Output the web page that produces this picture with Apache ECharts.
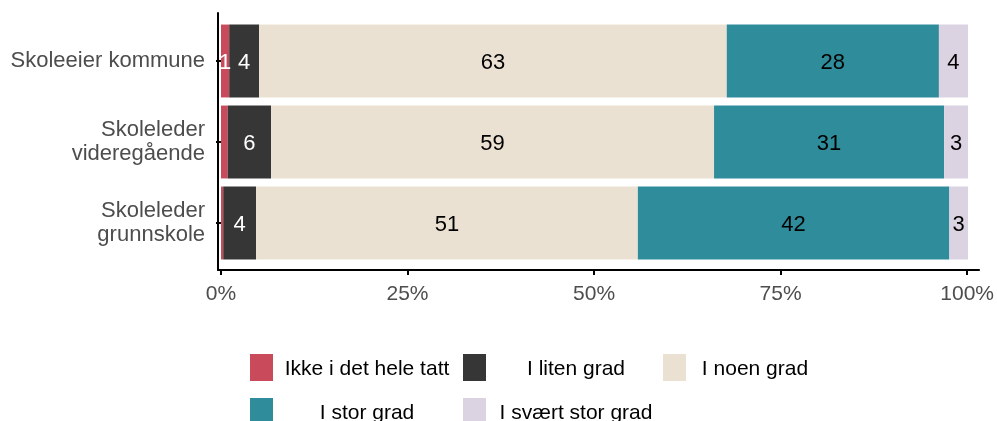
<!DOCTYPE html>
<html>
<head>
<meta charset="utf-8">
<script src="https://cdn.jsdelivr.net/npm/echarts@6/dist/echarts.min.js"></script>
<style>
  html, body { margin: 0; padding: 0; background: #ffffff; }
  #chart { width: 997px; height: 421px; }
</style>
</head>
<body>
<div id="chart"></div>
<script>
// Respondent groups (top to bottom)
const categories = ['Skoleeier kommune', 'Skoleleder\nvideregående', 'Skoleleder\ngrunnskole'];

// Answer categories, in stacking order
const seriesNames = ['Ikke i det hele tatt', 'I liten grad', 'I noen grad', 'I stor grad', 'I svært stor grad'];

// Share of respondents (%), one value per group
const ikkeIDetHeleTatt = [1.1, 0.9, 0.3];
const iLitenGrad       = [4.0, 5.8, 4.4];
const iNoenGrad        = [62.6, 59.3, 51.1];
const iStorGrad        = [28.4, 30.8, 41.7];
const iSvaertStorGrad  = [3.9, 3.2, 2.5];

// Percent axis ticks
const xTicks = [0, 25, 50, 75, 100];

const values = [ikkeIDetHeleTatt, iLitenGrad, iNoenGrad, iStorGrad, iSvaertStorGrad];
const colors = ['#c94b5b', '#363636', '#ebe1d2', '#2e8c9b', '#dbd3e1'];
const labelColors = ['#ffffff', '#ffffff', '#000000', '#000000', '#000000'];

const FONT = 'Liberation Sans, Arial, sans-serif';
const X_MIN = -0.4, X_MAX = 101.6;

const series = seriesNames.map((name, i) => ({
  name: name,
  type: 'bar',
  stack: 'total',
  xAxisIndex: 0,
  yAxisIndex: 0,
  barWidth: '90%',
  data: values[i],
  itemStyle: { color: colors[i] },
  label: {
    show: true,
    position: 'inside',
    offset: [0, 2],
    color: labelColors[i],
    fontFamily: FONT,
    fontSize: 22,
    formatter: p => (p.value >= 1 ? String(Math.round(p.value)) : '')
  },
  emphasis: { disabled: true }
}));

// Legend: two rows, three columns, label text centred in each column
const legendCols = [
  { left: 250, width: 178 },
  { left: 463, width: 170 },
  { left: 663, width: 128 }
];
const legendRows = [354, 398];
const legends = seriesNames.map((name, i) => {
  const col = legendCols[i % 3];
  const row = legendRows[Math.floor(i / 3)];
  return {
    data: [name],
    left: col.left,
    top: row,
    padding: 0,
    icon: 'rect',
    itemWidth: 23,
    itemHeight: 27,
    formatter: n => '{t|' + n + '}',
    textStyle: {
      fontFamily: FONT,
      fontSize: 21,
      color: '#000000',
      rich: { t: { width: col.width, align: 'center', padding: [4, 0, 0, 0], fontFamily: FONT, fontSize: 21, color: '#000000' } }
    }
  };
});

const chart = echarts.init(document.getElementById('chart'), null, { renderer: 'canvas' });
chart.setOption({
  animation: false,
  backgroundColor: '#ffffff',
  legend: legends,
  grid: [
    // bars
    { left: 218, right: 17, top: 20.5, bottom: 157.5, containLabel: false },
    // axis frame
    { left: 218, right: 17, top: 13, bottom: 151, containLabel: false }
  ],
  xAxis: [
    { gridIndex: 0, type: 'value', min: X_MIN, max: X_MAX, show: false },
    {
      gridIndex: 1, type: 'value', min: X_MIN, max: X_MAX, position: 'bottom',
      axisLine: { show: true, onZero: false, lineStyle: { color: '#000000', width: 2 } },
      axisTick: { show: true, length: 5, customValues: xTicks, lineStyle: { color: '#000000', width: 2 } },
      axisLabel: {
        show: true, customValues: xTicks, margin: 14,
        formatter: v => v + '%',
        fontFamily: FONT, fontSize: 21, color: '#4d4d4d'
      },
      splitLine: { show: false }
    }
  ],
  yAxis: [
    {
      gridIndex: 0, type: 'category', data: categories, inverse: true,
      axisLine: { show: false },
      axisTick: { show: true, alignWithLabel: true, length: 5, lineStyle: { color: '#000000', width: 2 } },
      axisLabel: {
        margin: 13, fontFamily: FONT, fontSize: 22, color: '#4d4d4d',
        lineHeight: 24, align: 'right', padding: [8, 0, 0, 0]
      },
      splitLine: { show: false }
    },
    {
      gridIndex: 1, type: 'value', min: 0, max: 1, position: 'left',
      axisLine: { show: true, onZero: false, lineStyle: { color: '#000000', width: 2 } },
      axisTick: { show: false },
      axisLabel: { show: false },
      splitLine: { show: false }
    }
  ],
  series: series
});
</script>
</body>
</html>
